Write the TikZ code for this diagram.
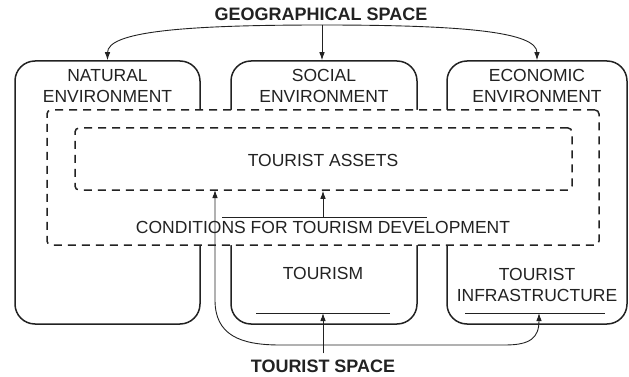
\documentclass[tikz,border=0pt]{standalone}
\usepackage{fontspec}
\setmainfont{Liberation Sans}
\usetikzlibrary{arrows.meta}
\definecolor{ink}{HTML}{222222}
\begin{document}
\begin{tikzpicture}[x=1pt,y=-1pt,
  envbox/.style={draw=ink, line width=1.5pt, rounded corners=20pt, inner sep=0pt},
  dbox/.style={draw=ink, line width=1.5pt, dash pattern=on 8pt off 6pt, rounded corners=4pt, inner sep=0pt},
  lbl/.style={font=\fontsize{17.5}{21}\selectfont, text=ink, align=center, inner sep=0pt},
  hlbl/.style={font=\fontsize{18}{21}\selectfont\bfseries, text=ink, inner sep=0pt},
  conn/.style={draw=ink, line width=0.9pt, -{Latex[length=8pt,width=5.5pt]}},
  thin/.style={draw=ink, line width=0.8pt},
  ]
\useasboundingbox (0,0) rectangle (629,377);

% environment boxes
\node[envbox, minimum width=185pt, minimum height=263pt] (natural) at (107.5,192.5) {};
\node[envbox, minimum width=186pt, minimum height=263pt] (social) at (324,192.5) {};
\node[envbox, minimum width=180pt, minimum height=263pt] (econ) at (537,192.5) {};

% dashed boxes
\node[dbox, fill=white, minimum width=552pt, minimum height=135pt] (outer) at (323,177.5) {};
\node[dbox, minimum width=497pt, minimum height=62pt] (inner) at (323.5,159) {};

% labels
\node[hlbl] (geo) at (321,14) {GEOGRAPHICAL SPACE};
\node[lbl] (natl) at (107.5,86) {NATURAL\\ENVIRONMENT};
\node[lbl] (socl) at (324,86) {SOCIAL\\ENVIRONMENT};
\node[lbl] (ecol) at (537,86) {ECONOMIC\\ENVIRONMENT};
\node[lbl] (assets) at (323,160) {TOURIST ASSETS};
\node[lbl] (cond) at (323,227) {CONDITIONS FOR TOURISM DEVELOPMENT};
\node[lbl] (tourism) at (323,273) {TOURISM};
\node[lbl] (infra) at (537,285) {TOURIST\\INFRASTRUCTURE};
\node[hlbl] (tspace) at (323,366) {TOURIST SPACE};

% coordinates
\coordinate (br) at (322,25);
\coordinate (cl1) at (222,217);
\coordinate (cl2) at (427,217);
\coordinate (cm) at (323,217);
\coordinate (tl1) at (256,313);
\coordinate (tl2) at (390,313);
\coordinate (il1) at (465,313);
\coordinate (il2) at (605,313);
\coordinate (ia) at (539,313);
\coordinate (aa) at (215,190);

% underlines
\draw[thin] (cl1) -- (cl2);
\draw[thin] (tl1) -- (tl2);
\draw[thin] (il1) -- (il2);

% geographical space arrows
\draw[conn] (br) -- (br |- social.north);
\draw[conn] (br) .. controls (180,25) and (107.5,32) .. (natural.north);
\draw[conn] (br) .. controls (465,25) and (537,32) .. (econ.north);

% inner arrows
\draw[conn] (cm) -- (cm |- inner.south);
\draw[conn] (tspace.north) ++(0,-6) -- (tspace.north |- tl1);
\draw[draw=ink, line width=0.9pt, {Latex[length=8pt,width=5.5pt]}-{Latex[length=8pt,width=5.5pt]}]
  (aa) -- (215,300) .. controls (215,335) and (240,345) .. (280,345)
  -- (505,345) .. controls (530,345) and (539,338) .. (ia);
\end{tikzpicture}
\end{document}
